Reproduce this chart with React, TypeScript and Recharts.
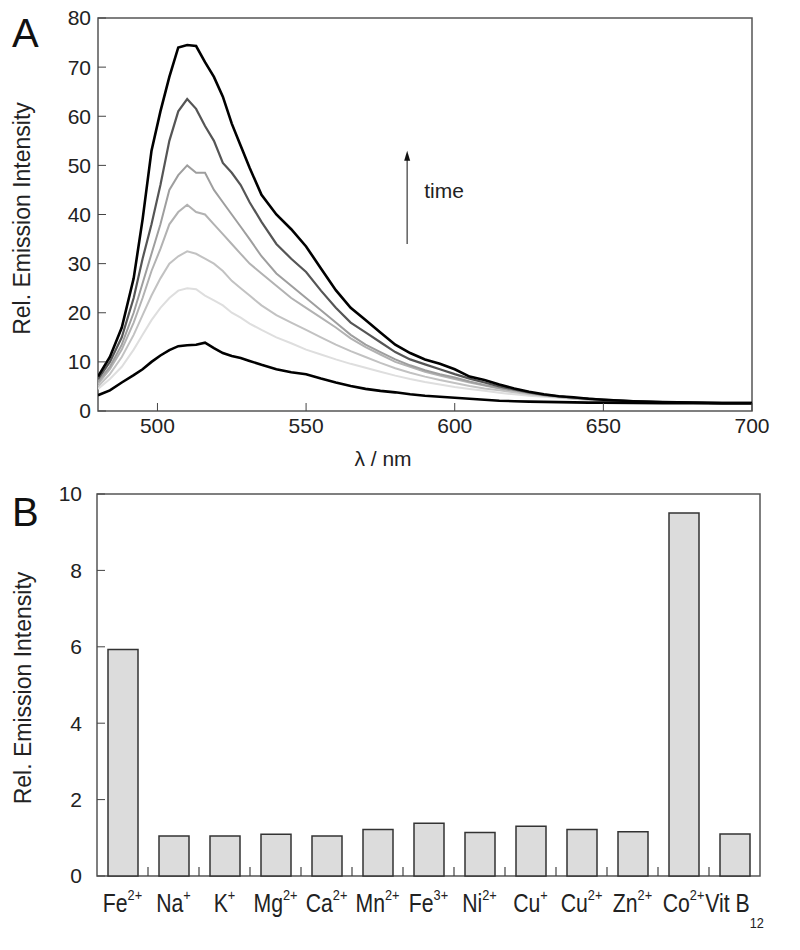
import React from "react";
import {
  LineChart,
  Line,
  BarChart,
  Bar,
  XAxis,
  YAxis,
  ReferenceArea,
  ReferenceLine,
} from "recharts";

document.body.style.margin = "0";

// panel A: emission spectra over time (nm)
const wavelengths = [
  480, 484, 488, 492, 495, 498, 501, 504, 507, 510, 513, 516, 519, 522, 525, 528, 531, 535, 540, 545,
  550, 555, 560, 565, 570, 575, 580, 585, 590, 595, 600, 605, 610, 615, 620, 625, 630, 635, 640, 645,
  650, 660, 670, 680, 690, 700,
];

const spectrumT0 = [
  3.2, 4.2, 5.8, 7.3, 8.5, 10, 11.3, 12.4, 13.2, 13.4, 13.5, 13.9, 12.8, 11.8, 11.2, 10.8, 10.2, 9.4, 8.5, 7.9,
  7.5, 6.6, 5.8, 5.1, 4.5, 4.1, 3.8, 3.4, 3.1, 2.9, 2.7, 2.5, 2.3, 2.1, 2, 1.9, 1.85, 1.8, 1.75, 1.7,
  1.7, 1.65, 1.6, 1.6, 1.6, 1.6,
];
const spectrumT1 = [
  4.5, 6.5, 9, 12.5, 15.5, 18.5, 21, 23, 24.5, 25, 24.8, 23.5, 22.5, 21.5, 20, 19, 17.8, 16.5, 15, 13.8,
  12.5, 11.5, 10.5, 9.6, 8.8, 8, 7.2, 6.5, 5.9, 5.4, 4.9, 4.5, 4.1, 3.7, 3.4, 3.1, 2.9, 2.7, 2.5, 2.3,
  2.1, 1.9, 1.8, 1.7, 1.6, 1.6,
];
const spectrumT2 = [
  5, 7.5, 11, 15.5, 19.5, 23.5, 27, 30, 31.5, 32.5, 32, 31, 30, 28.5, 26.5, 25, 23.5, 21.5, 19.5, 18,
  16.5, 15, 13.5, 12.2, 11, 9.8, 8.7, 7.8, 7, 6.3, 5.7, 5.1, 4.6, 4.2, 3.8, 3.4, 3.1, 2.8, 2.5, 2.3,
  2.1, 1.9, 1.8, 1.7, 1.6, 1.6,
];
const spectrumT3 = [
  5.5, 8.5, 12.5, 18, 23, 28.5, 33, 38, 40.5, 42, 40.5, 40, 38, 36, 34, 32, 30, 28, 25.5, 23,
  21, 19, 17, 14.8, 13, 11.5, 10, 9, 8, 7.2, 6.5, 5.8, 5.2, 4.6, 4.1, 3.6, 3.2, 2.9, 2.6, 2.4,
  2.2, 2, 1.8, 1.7, 1.6, 1.6,
];
const spectrumT4 = [
  6, 9, 13.5, 20, 26, 32, 38, 45, 48, 50, 48.5, 48.5, 45, 42.5, 40, 37.5, 35, 31.5, 28, 25.5,
  23, 20.5, 18, 15.5, 13.5, 12, 10.5, 9.3, 8.3, 7.5, 6.8, 6, 5.3, 4.7, 4.2, 3.7, 3.3, 3, 2.7, 2.5,
  2.3, 2, 1.8, 1.7, 1.6, 1.6,
];
const spectrumT5 = [
  6.5, 10, 15, 23, 31, 38, 46, 55, 61, 63.5, 61.5, 58, 55, 50.5, 48.5, 46, 42.5, 38.5, 34, 31,
  28.3, 24.5, 21, 18, 16, 14, 12, 10.5, 9.5, 8.5, 7.5, 6.6, 5.8, 5, 4.4, 3.8, 3.3, 3, 2.7, 2.5,
  2.3, 2, 1.8, 1.7, 1.6, 1.6,
];
const spectrumT6 = [
  7, 11, 17, 27, 39, 53, 61, 68, 74, 74.5, 74.3, 71, 68, 64, 58.5, 54, 49.5, 44, 40, 37,
  33.5, 29, 24.6, 21, 18.5, 16, 13.5, 11.8, 10.5, 9.6, 8.5, 7, 6.3, 5.4, 4.6, 3.9, 3.4, 3, 2.8, 2.5,
  2.3, 2, 1.8, 1.7, 1.6, 1.6,
];

const xTicksA = [500, 550, 600, 650, 700];
const yTicksA = [0, 10, 20, 30, 40, 50, 60, 70, 80];

// panel B: response to ions
const ionNames = ["Fe2+", "Na+", "K+", "Mg2+", "Ca2+", "Mn2+", "Fe3+", "Ni2+", "Cu+", "Cu2+", "Zn2+", "Co2+", "Vit B12"];
const ionBase = ["Fe", "Na", "K", "Mg", "Ca", "Mn", "Fe", "Ni", "Cu", "Cu", "Zn", "Co", "Vit B"];
const ionSup = ["2+", "+", "+", "2+", "2+", "2+", "3+", "2+", "+", "2+", "2+", "2+", ""];
const ionSub = ["", "", "", "", "", "", "", "", "", "", "", "", "12"];
const ionIntensity = [5.93, 1.05, 1.05, 1.09, 1.05, 1.22, 1.38, 1.14, 1.3, 1.22, 1.16, 9.5, 1.1];
const yTicksB = [0, 2, 4, 6, 8, 10];

const font = "'Liberation Sans', Arial, Helvetica, sans-serif";

const spectra = wavelengths.map((wl, i) => ({
  wl,
  t0: spectrumT0[i],
  t1: spectrumT1[i],
  t2: spectrumT2[i],
  t3: spectrumT3[i],
  t4: spectrumT4[i],
  t5: spectrumT5[i],
  t6: spectrumT6[i],
}));

const lineStyles = [
  { key: "t1", color: "#dedede", width: 2 },
  { key: "t2", color: "#c2c2c2", width: 2 },
  { key: "t3", color: "#b2b2b2", width: 2 },
  { key: "t4", color: "#9e9e9e", width: 2 },
  { key: "t5", color: "#555555", width: 2.2 },
  { key: "t6", color: "#000000", width: 2.6 },
  { key: "t0", color: "#000000", width: 2.6 },
];

const ionRows = ionNames.map((ion, i) => ({ ion, value: ionIntensity[i] }));

const tickStyle = { fill: "#222", fontSize: 21, fontFamily: font };

const ArrowShape = (props: any) => {
  const { x1, y1, x2, y2 } = props;
  return (
    <g>
      <line x1={x1} y1={y1} x2={x2} y2={y2 + 5} stroke="#555" strokeWidth={1.4} />
      <path d={`M${x2 - 3},${y2 + 10} L${x2},${y2} L${x2 + 3},${y2 + 10} Z`} fill="#111" />
      <text x={x1 + 17} y={(y1 + y2) / 2 + 1} fontSize={21} fontFamily={font} fill="#222">
        time
      </text>
    </g>
  );
};

// category label with charge superscript; also draws the inward tick at the right edge of the band
const IonTick = (props: any) => {
  const { x, y, payload, index } = props;
  const i = ionNames.indexOf(payload.value);
  const half = payload.offset || 0;
  const isLast = index === ionNames.length - 1;
  return (
    <g>
      {!isLast && half > 0 ? (
        <line x1={x + half} y1={y} x2={x + half} y2={y - 9} stroke="#444" strokeWidth={1.2} />
      ) : null}
      <g transform={`translate(${x},${y + 36}) scale(0.85,1)`}>
        <text x={0} y={0} textAnchor="middle" fontSize={25} fill="#222" fontFamily={font}>
          {ionBase[i]}
          {ionSup[i] ? (
            <tspan dy={-12} fontSize={15}>
              {ionSup[i]}
            </tspan>
          ) : null}
          {ionSub[i] ? (
            <tspan dy={16} fontSize={15}>
              {ionSub[i]}
            </tspan>
          ) : null}
        </text>
      </g>
    </g>
  );
};

const panelLetter = (top: number): React.CSSProperties => ({
  position: "absolute",
  left: 12,
  top,
  fontSize: 40,
  lineHeight: 1,
  fontFamily: font,
  color: "#111",
});

export default function App() {
  return (
    <div style={{ position: "relative", width: 800, height: 950, background: "#fff" }}>
      <div style={panelLetter(13)}>A</div>
      <div style={panelLetter(492)}>B</div>

      <div style={{ position: "absolute", left: 0, top: 0 }}>
        <LineChart width={800} height={480} data={spectra} margin={{ top: 18, right: 48, bottom: 29, left: 0 }}>
          <XAxis
            dataKey="wl"
            type="number"
            domain={[480, 700]}
            ticks={xTicksA}
            allowDataOverflow
            height={40}
            tickSize={-8}
            tickMargin={15}
            axisLine={false}
            tickLine={{ stroke: "#444" }}
            tick={tickStyle}
            label={{ value: "λ / nm", position: "bottom", offset: 0, dx: -42, fontSize: 21, fontFamily: font, fill: "#222" }}
          />
          <YAxis
            type="number"
            domain={[0, 80]}
            ticks={yTicksA}
            width={98}
            tickSize={-8}
            tickMargin={15}
            axisLine={false}
            tickLine={{ stroke: "#444" }}
            tick={tickStyle}
            label={{
              value: "Rel. Emission Intensity",
              angle: -90,
              position: "center",
              dx: -27,
              dy: 4,
              fontSize: 23,
              fontFamily: font,
              fill: "#222",
            }}
          />
          <ReferenceArea x1={480} x2={700} y1={0} y2={80} fill="none" stroke="#555" strokeWidth={1.5} />
          <ReferenceLine
            segment={[
              { x: 584, y: 34 },
              { x: 584, y: 53 },
            ]}
            shape={ArrowShape}
          />
          {lineStyles.map((s) => (
            <Line
              key={s.key}
              type="linear"
              dataKey={s.key}
              stroke={s.color}
              strokeWidth={s.width}
              dot={false}
              isAnimationActive={false}
            />
          ))}
        </LineChart>
      </div>

      <div style={{ position: "absolute", left: 0, top: 480 }}>
        <BarChart width={800} height={470} data={ionRows} margin={{ top: 14, right: 40, bottom: 14, left: 0 }}>
          <XAxis
            dataKey="ion"
            height={60}
            interval={0}
            tickSize={0}
            tickMargin={0}
            tickLine={false}
            axisLine={false}
            tick={<IonTick />}
          />
          <YAxis
            type="number"
            domain={[0, 10]}
            ticks={yTicksB}
            width={97}
            tickSize={-8}
            tickMargin={23}
            axisLine={false}
            tickLine={{ stroke: "#444" }}
            tick={tickStyle}
            label={{
              value: "Rel. Emission Intensity",
              angle: -90,
              position: "center",
              dx: -26,
              dy: 3,
              fontSize: 23,
              fontFamily: font,
              fill: "#222",
            }}
          />
          <ReferenceArea y1={0} y2={10} fill="none" stroke="#555" strokeWidth={1.5} />
          <Bar dataKey="value" barSize={30} fill="#dcdcdc" stroke="#333" strokeWidth={1.5} isAnimationActive={false} />
        </BarChart>
      </div>
    </div>
  );
}
